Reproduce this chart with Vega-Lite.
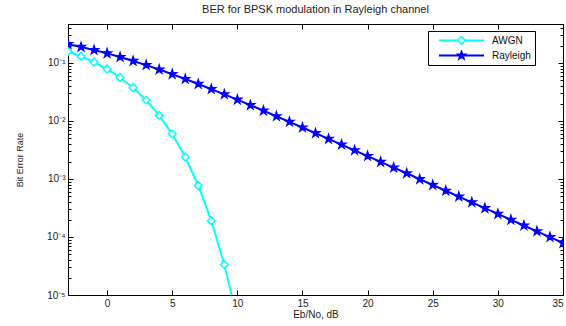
{
  "$schema": "https://vega.github.io/schema/vega-lite/v6.json",
  "width": 495,
  "height": 271,
  "autosize": "none",
  "padding": {"left": 68, "top": 24, "right": 3, "bottom": 31},
  "background": "white",
  "title": {"text": "BER for BPSK modulation in Rayleigh channel", "font": "Liberation Sans", "fontSize": 11, "fontWeight": "normal", "color": "#222222", "anchor": "middle", "offset": 9},
  "config": {
    "view": {"stroke": "black", "strokeWidth": 1},
    "axis": {"grid": false, "domainColor": "black", "tickColor": "black", "labelFont": "Liberation Sans", "labelFontSize": 10, "labelColor": "#222222", "titleFont": "Liberation Sans", "titleFontSize": 10, "titleFontWeight": "normal", "titleColor": "#222222"},
    "legend": {"labelFont": "Liberation Sans", "labelFontSize": 10, "labelColor": "#111111"}
  },
  "data": {"values": [
    {"x": -3, "ber": 0.1583, "series": "AWGN", "marker": "diamond"},
    {"x": -2, "ber": 0.1306, "series": "AWGN", "marker": "diamond"},
    {"x": -1, "ber": 0.1038, "series": "AWGN", "marker": "diamond"},
    {"x": 0, "ber": 0.0786, "series": "AWGN", "marker": "diamond"},
    {"x": 1, "ber": 0.0563, "series": "AWGN", "marker": "diamond"},
    {"x": 2, "ber": 0.0375, "series": "AWGN", "marker": "diamond"},
    {"x": 3, "ber": 0.0229, "series": "AWGN", "marker": "diamond"},
    {"x": 4, "ber": 0.0125, "series": "AWGN", "marker": "diamond"},
    {"x": 5, "ber": 0.00595, "series": "AWGN", "marker": "diamond"},
    {"x": 6, "ber": 0.00239, "series": "AWGN", "marker": "diamond"},
    {"x": 7, "ber": 0.000773, "series": "AWGN", "marker": "diamond"},
    {"x": 8, "ber": 0.000191, "series": "AWGN", "marker": "diamond"},
    {"x": 9, "ber": 0.0000336, "series": "AWGN", "marker": "diamond"},
    {"x": 10, "ber": 0.00000387, "series": "AWGN", "marker": "diamond"},
    {"x": -3, "ber": 0.2111, "series": "Rayleigh", "marker": "pentagram"},
    {"x": -2, "ber": 0.1890, "series": "Rayleigh", "marker": "pentagram"},
    {"x": -1, "ber": 0.1673, "series": "Rayleigh", "marker": "pentagram"},
    {"x": 0, "ber": 0.1464, "series": "Rayleigh", "marker": "pentagram"},
    {"x": 1, "ber": 0.1267, "series": "Rayleigh", "marker": "pentagram"},
    {"x": 2, "ber": 0.1085, "series": "Rayleigh", "marker": "pentagram"},
    {"x": 3, "ber": 0.0919, "series": "Rayleigh", "marker": "pentagram"},
    {"x": 4, "ber": 0.0771, "series": "Rayleigh", "marker": "pentagram"},
    {"x": 5, "ber": 0.0642, "series": "Rayleigh", "marker": "pentagram"},
    {"x": 6, "ber": 0.0530, "series": "Rayleigh", "marker": "pentagram"},
    {"x": 7, "ber": 0.0435, "series": "Rayleigh", "marker": "pentagram"},
    {"x": 8, "ber": 0.0355, "series": "Rayleigh", "marker": "pentagram"},
    {"x": 9, "ber": 0.0288, "series": "Rayleigh", "marker": "pentagram"},
    {"x": 10, "ber": 0.0233, "series": "Rayleigh", "marker": "pentagram"},
    {"x": 11, "ber": 0.01875, "series": "Rayleigh", "marker": "pentagram"},
    {"x": 12, "ber": 0.01506, "series": "Rayleigh", "marker": "pentagram"},
    {"x": 13, "ber": 0.01208, "series": "Rayleigh", "marker": "pentagram"},
    {"x": 14, "ber": 0.00966, "series": "Rayleigh", "marker": "pentagram"},
    {"x": 15, "ber": 0.00772, "series": "Rayleigh", "marker": "pentagram"},
    {"x": 16, "ber": 0.00616, "series": "Rayleigh", "marker": "pentagram"},
    {"x": 17, "ber": 0.00491, "series": "Rayleigh", "marker": "pentagram"},
    {"x": 18, "ber": 0.00392, "series": "Rayleigh", "marker": "pentagram"},
    {"x": 19, "ber": 0.00312, "series": "Rayleigh", "marker": "pentagram"},
    {"x": 20, "ber": 0.00248, "series": "Rayleigh", "marker": "pentagram"},
    {"x": 21, "ber": 0.00197, "series": "Rayleigh", "marker": "pentagram"},
    {"x": 22, "ber": 0.00157, "series": "Rayleigh", "marker": "pentagram"},
    {"x": 23, "ber": 0.001254, "series": "Rayleigh", "marker": "pentagram"},
    {"x": 24, "ber": 0.000992, "series": "Rayleigh", "marker": "pentagram"},
    {"x": 25, "ber": 0.000789, "series": "Rayleigh", "marker": "pentagram"},
    {"x": 26, "ber": 0.000627, "series": "Rayleigh", "marker": "pentagram"},
    {"x": 27, "ber": 0.000498, "series": "Rayleigh", "marker": "pentagram"},
    {"x": 28, "ber": 0.000396, "series": "Rayleigh", "marker": "pentagram"},
    {"x": 29, "ber": 0.000314, "series": "Rayleigh", "marker": "pentagram"},
    {"x": 30, "ber": 0.000250, "series": "Rayleigh", "marker": "pentagram"},
    {"x": 31, "ber": 0.000198, "series": "Rayleigh", "marker": "pentagram"},
    {"x": 32, "ber": 0.0001577, "series": "Rayleigh", "marker": "pentagram"},
    {"x": 33, "ber": 0.0001253, "series": "Rayleigh", "marker": "pentagram"},
    {"x": 34, "ber": 0.0000995, "series": "Rayleigh", "marker": "pentagram"},
    {"x": 35, "ber": 0.0000790, "series": "Rayleigh", "marker": "pentagram"}
  ]},
  "layer": [
    {
      "mark": {"type": "line", "strokeWidth": 2, "clip": true},
      "encoding": {
        "x": {"field": "x", "type": "quantitative", "title": "Eb/No, dB",
              "scale": {"domain": [-3, 35], "nice": false, "zero": false},
              "axis": {"orient": "bottom", "values": [0, 5, 10, 15, 20, 25, 30, 35], "tickSize": -5, "labelPadding": 8, "titlePadding": 1}},
        "y": {"field": "ber", "type": "quantitative", "title": "Bit Error Rate",
              "scale": {"type": "log", "domain": [0.00001, 0.47], "nice": false},
              "axis": {"orient": "left",
                       "values": [0.00001, 0.00002, 0.00003, 0.00004, 0.00005, 0.00006, 0.00007, 0.00008, 0.00009, 0.0001, 0.0002, 0.0003, 0.0004, 0.0005, 0.0006, 0.0007, 0.0008, 0.0009, 0.001, 0.002, 0.003, 0.004, 0.005, 0.006, 0.007, 0.008, 0.009, 0.01, 0.02, 0.03, 0.04, 0.05, 0.06, 0.07, 0.08, 0.09, 0.1, 0.2, 0.3, 0.4],
                       "labelExpr": "abs(log(datum.value)/LN10 - round(log(datum.value)/LN10)) < 0.001 ? '10' + ['⁰','⁻¹','⁻²','⁻³','⁻⁴','⁻⁵'][-round(log(datum.value)/LN10)] : ''",
                       "tickSize": {"condition": {"test": "abs(log(datum.value)/LN10 - round(log(datum.value)/LN10)) < 0.001", "value": -5}, "value": -3},
                       "labelPadding": 8, "titlePadding": 22, "titleFontSize": 9}},
        "color": {"field": "series", "type": "nominal",
                  "scale": {"domain": ["AWGN", "Rayleigh"], "range": ["#00FFFF", "#0000FF"]},
                  "legend": {"title": null, "orient": "none", "legendX": 360, "legendY": 7, "symbolType": "M0,0H8", "symbolSize": 127, "symbolStrokeWidth": 2, "strokeColor": "black", "fillColor": "white", "padding": 4, "labelOffset": 46, "rowPadding": 4, "clipHeight": 11}}
      }
    },
    {
      "mark": {"type": "point", "clip": true, "strokeWidth": 1.5, "opacity": 1},
      "encoding": {
        "x": {"field": "x", "type": "quantitative", "axis": {"orient": "top", "values": [0, 5, 10, 15, 20, 25, 30, 35], "tickSize": -5, "labels": false, "title": null}},
        "y": {"field": "ber", "type": "quantitative",
              "axis": {"orient": "right", "title": null, "labels": false,
                       "values": [0.00001, 0.00002, 0.00003, 0.00004, 0.00005, 0.00006, 0.00007, 0.00008, 0.00009, 0.0001, 0.0002, 0.0003, 0.0004, 0.0005, 0.0006, 0.0007, 0.0008, 0.0009, 0.001, 0.002, 0.003, 0.004, 0.005, 0.006, 0.007, 0.008, 0.009, 0.01, 0.02, 0.03, 0.04, 0.05, 0.06, 0.07, 0.08, 0.09, 0.1, 0.2, 0.3, 0.4],
                       "tickSize": {"condition": {"test": "abs(log(datum.value)/LN10 - round(log(datum.value)/LN10)) < 0.001", "value": -5}, "value": -3}}},
        "shape": {"field": "marker", "type": "nominal", "scale": {"domain": ["diamond", "pentagram"], "range": ["diamond", "M0,-1L0.223,-0.307L0.951,-0.309L0.361,0.117L0.588,0.809L0,0.38L-0.588,0.809L-0.361,0.117L-0.951,-0.309L-0.223,-0.307Z"]},
                  "legend": {"title": null, "orient": "none", "legendX": 384, "legendY": 7, "symbolStrokeWidth": 1.5, "padding": 4, "labelExpr": "''", "rowPadding": 4, "clipHeight": 11}},
        "stroke": {"field": "marker", "type": "nominal", "scale": {"domain": ["diamond", "pentagram"], "range": ["#00FFFF", "#0000FF"]}},
        "fill": {"field": "marker", "type": "nominal", "scale": {"domain": ["diamond", "pentagram"], "range": ["#FFFFFF", "#0000FF"]}},
        "size": {"field": "marker", "type": "nominal", "scale": {"domain": ["diamond", "pentagram"], "range": [60, 75]}}
      }
    }
  ],
  "resolve": {"axis": {"x": "independent", "y": "independent"}}
}
